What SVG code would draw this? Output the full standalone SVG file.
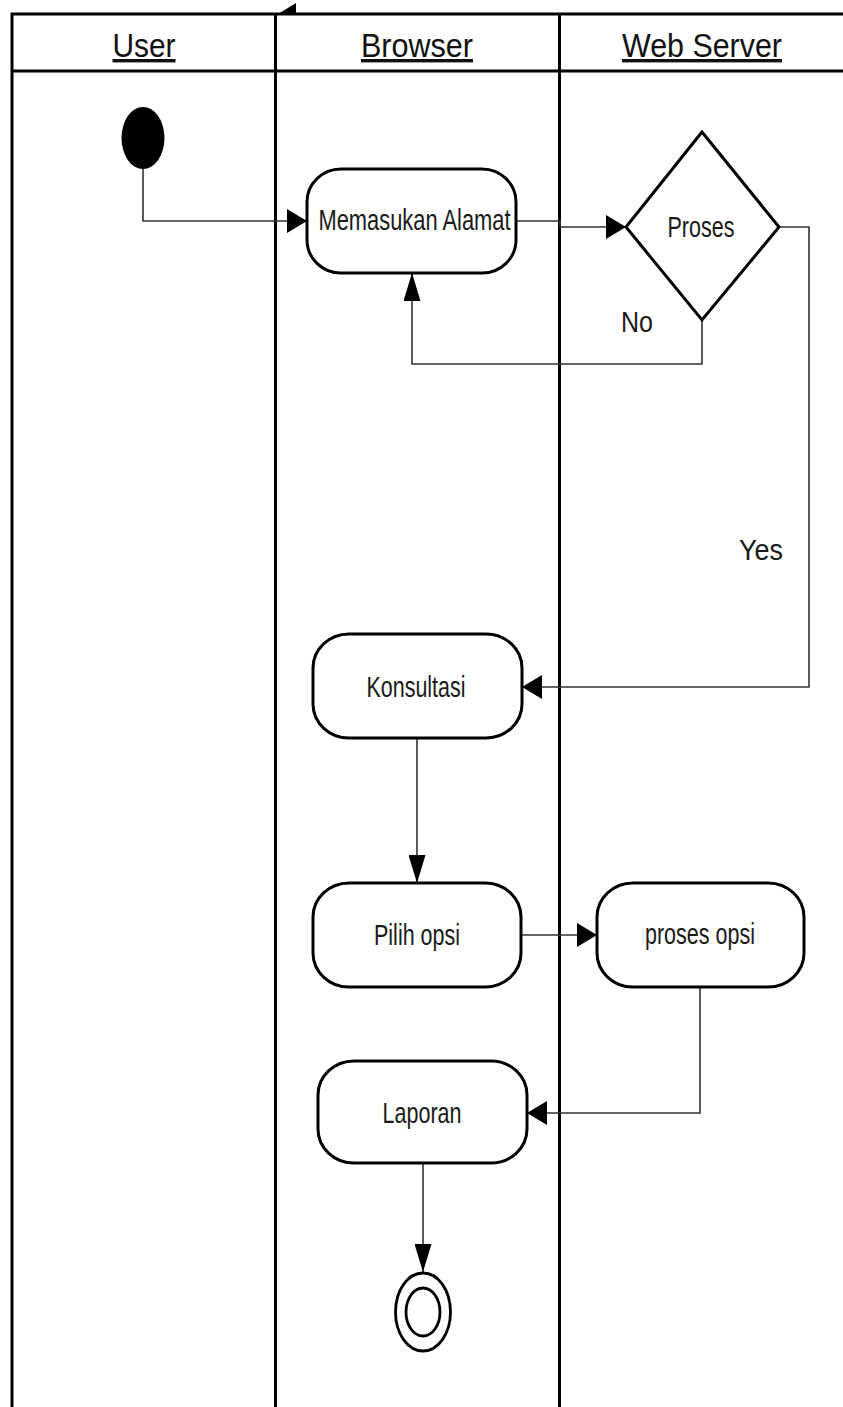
<svg xmlns="http://www.w3.org/2000/svg" width="843" height="1407" viewBox="0 0 843 1407">
<style>
.lane{stroke:#000;stroke-width:3;fill:none}
.node{fill:#fff;stroke:#000;stroke-width:3}
.lbl{font-family:"Liberation Sans",Arial,sans-serif;font-size:29px;fill:#1a1a1a;text-anchor:middle}
.hdr{font-family:"Liberation Sans",Arial,sans-serif;font-size:34px;fill:#111;text-anchor:middle;text-decoration:underline}
.conn{stroke:#333;stroke-width:1.6;fill:none}
</style>
<defs>
<marker id="ah" markerUnits="userSpaceOnUse" markerWidth="20" markerHeight="24" refX="20" refY="12" orient="auto"><path d="M0,0 L20,12 L0,24 z" fill="#000"/></marker>
<marker id="av" markerUnits="userSpaceOnUse" markerWidth="28" markerHeight="17" refX="28" refY="8.5" orient="auto"><path d="M0,0 L28,8.5 L0,17 z" fill="#000"/></marker>
</defs>
<rect width="843" height="1407" fill="#fff"/>
<g id="swimlanes">
<path class="lane" d="M12,1407 V14 H845 M12,71 H845 M275.5,14 V1407 M559.5,14 V1407"/>
<polygon points="278,14 296,3 296,14" fill="#000"/>
<text class="hdr" x="144" y="57" textLength="63" lengthAdjust="spacingAndGlyphs">User</text>
<text class="hdr" x="417" y="57" textLength="112" lengthAdjust="spacingAndGlyphs">Browser</text>
<text class="hdr" x="702" y="57" textLength="160" lengthAdjust="spacingAndGlyphs">Web Server</text>
</g>
<g id="connectors">
<path class="conn" d="M143,168 V221 H307" marker-end="url(#ah)"/>
<path class="conn" d="M516,221 H560 V227 H626" marker-end="url(#ah)"/>
<path class="conn" d="M702,320 V364 H412 V273" marker-end="url(#av)"/>
<path class="conn" d="M779,227 H809 V687 H522" marker-end="url(#ah)"/>
<path class="conn" d="M417,738 V883" marker-end="url(#av)"/>
<path class="conn" d="M521,935 H597" marker-end="url(#ah)"/>
<path class="conn" d="M700,987 V1113 H527" marker-end="url(#ah)"/>
<path class="conn" d="M423,1163 V1272" marker-end="url(#av)"/>
<text class="lbl" x="637" y="332" font-size="31" textLength="32" lengthAdjust="spacingAndGlyphs">No</text>
<text class="lbl" x="761" y="560" font-size="35" textLength="44" lengthAdjust="spacingAndGlyphs">Yes</text>
</g>
<g id="start"><ellipse cx="143" cy="138" rx="21.5" ry="31" fill="#000"/></g>
<g id="memasukan">
<rect class="node" x="307" y="169" width="209" height="104" rx="34" ry="33"/>
<text class="lbl" x="414.5" y="230" font-size="27" textLength="192" lengthAdjust="spacingAndGlyphs">Memasukan Alamat</text>
</g>
<g id="proses">
<polygon class="node" points="702,132 779,227 702,320 626,227"/>
<text class="lbl" x="701" y="237" textLength="67" lengthAdjust="spacingAndGlyphs">Proses</text>
</g>
<g id="konsultasi">
<rect class="node" x="313" y="634" width="209" height="104" rx="36" ry="34"/>
<text class="lbl" x="416" y="697" textLength="99" lengthAdjust="spacingAndGlyphs">Konsultasi</text>
</g>
<g id="pilih">
<rect class="node" x="313" y="883" width="208" height="104" rx="36" ry="34"/>
<text class="lbl" x="417" y="945" textLength="86" lengthAdjust="spacingAndGlyphs">Pilih opsi</text>
</g>
<g id="prosesopsi">
<rect class="node" x="597" y="883" width="207" height="104" rx="36" ry="34"/>
<text class="lbl" x="700" y="944" textLength="110" lengthAdjust="spacingAndGlyphs">proses opsi</text>
</g>
<g id="laporan">
<rect class="node" x="318" y="1061" width="209" height="102" rx="36" ry="34"/>
<text class="lbl" x="422" y="1123" textLength="79" lengthAdjust="spacingAndGlyphs">Laporan</text>
</g>
<g id="end">
<ellipse cx="423" cy="1312" rx="27.5" ry="39" fill="#fff" stroke="#000" stroke-width="2.8"/>
<ellipse cx="423" cy="1312" rx="17" ry="24" fill="none" stroke="#000" stroke-width="2.8"/>
</g>
</svg>
